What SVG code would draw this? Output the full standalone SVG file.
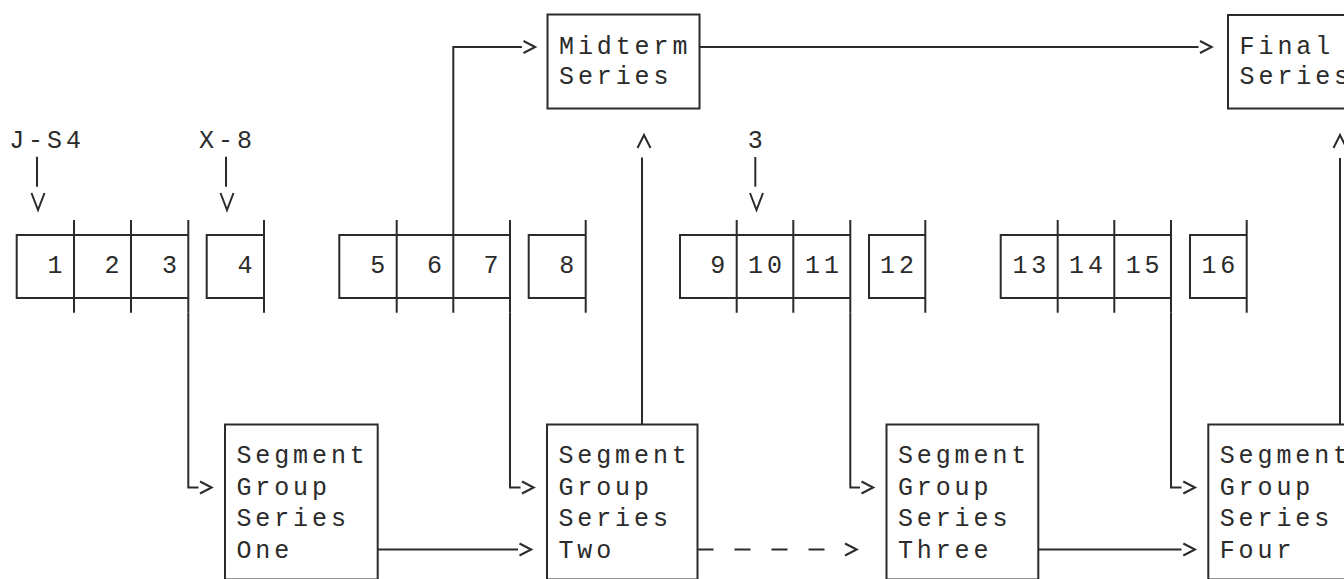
<svg xmlns="http://www.w3.org/2000/svg" width="1344" height="579" viewBox="0 0 1344 579">
<style>
.ln{fill:none;stroke:#2b2b2b;stroke-width:2}
.t{font-family:"Liberation Mono","Courier New",monospace;font-size:25px;letter-spacing:3.9px;fill:#2b2b2b}
.dash{stroke-dasharray:16 21}
</style>
<defs>
<path id="ar" d="M0,-6 L11.7,0 L0,6" fill="none" stroke="#2b2b2b" stroke-width="2"/>
<path id="dn" d="M-6.5,0 L0,17 L6.5,0" fill="none" stroke="#2b2b2b" stroke-width="2"/>
<path id="up" d="M-6.5,13 L0,0 L6.5,13" fill="none" stroke="#2b2b2b" stroke-width="2"/>
</defs>
<rect width="1344" height="579" fill="#ffffff"/>

<g id="label-js4"><text class="t" x="9.2" y="148">J-S4</text></g>
<g id="label-x8"><text class="t" x="199.1" y="148">X-8</text></g>
<g id="label-3"><text class="t" x="747.8" y="148">3</text></g>

<g id="midterm">
<rect class="ln" x="547.5" y="14.5" width="152" height="94"/>
<text class="t" x="559" y="53.5">Midterm</text>
<text class="t" x="559" y="84">Series</text>
</g>
<g id="final">
<rect class="ln" x="1228" y="15" width="160" height="93.5"/>
<text class="t" x="1239.6" y="53.5">Final</text>
<text class="t" x="1239.6" y="84">Series</text>
</g>

<g id="cells-1-3">
<path class="ln" d="M188.3,235 H16.7 V298 H188.3 M74,220 V312.7 M131,220 V312.7 M188.3,220 V312.7"/>
<text class="t" x="47.6" y="273.3">1</text>
<text class="t" x="104.6" y="273.3">2</text>
<text class="t" x="161.9" y="273.3">3</text>
</g>
<g id="cell-4">
<path class="ln" d="M264,235 H206.7 V298 H264 M264,220 V312.7"/>
<text class="t" x="237.6" y="273.3">4</text>
</g>
<g id="cells-5-7">
<path class="ln" d="M510,235 H339.3 V298 H510 M396.7,220 V312.7 M453.3,220 V312.7 M510,220 V312.7"/>
<text class="t" x="370.3" y="273.3">5</text>
<text class="t" x="426.9" y="273.3">6</text>
<text class="t" x="483.6" y="273.3">7</text>
</g>
<g id="cell-8">
<path class="ln" d="M585.7,235 H528.7 V298 H585.7 M585.7,220 V312.7"/>
<text class="t" x="559.3" y="273.3">8</text>
</g>
<g id="cells-9-11">
<path class="ln" d="M850.3,235 H680 V298 H850.3 M736.7,220 V312.7 M793.3,220 V312.7 M850.3,220 V312.7"/>
<text class="t" x="710.3" y="273.3">9</text>
<text class="t" x="748" y="273.3">10</text>
<text class="t" x="805" y="273.3">11</text>
</g>
<g id="cell-12">
<path class="ln" d="M925.3,235 H869 V298 H925.3 M925.3,220 V312.7"/>
<text class="t" x="880" y="273.3">12</text>
</g>
<g id="cells-13-15">
<path class="ln" d="M1171,235 H1000.7 V298 H1171 M1057.7,220 V312.7 M1114.3,220 V312.7 M1171,220 V312.7"/>
<text class="t" x="1012.4" y="273.3">13</text>
<text class="t" x="1069" y="273.3">14</text>
<text class="t" x="1125.7" y="273.3">15</text>
</g>
<g id="cell-16">
<path class="ln" d="M1246.7,235 H1190 V298 H1246.7 M1246.7,220 V312.7"/>
<text class="t" x="1201.4" y="273.3">16</text>
</g>

<g id="seg-one">
<rect class="ln" x="225" y="424.5" width="152.7" height="155"/>
<text class="t" x="236.4" y="463">Segment</text>
<text class="t" x="236.4" y="494.5">Group</text>
<text class="t" x="236.4" y="526">Series</text>
<text class="t" x="236.4" y="557.5">One</text>
</g>
<g id="seg-two">
<rect class="ln" x="547" y="424.5" width="150.5" height="155"/>
<text class="t" x="558.4" y="463">Segment</text>
<text class="t" x="558.4" y="494.5">Group</text>
<text class="t" x="558.4" y="526">Series</text>
<text class="t" x="558.4" y="557.5">Two</text>
</g>
<g id="seg-three">
<rect class="ln" x="886.5" y="424.5" width="151.8" height="155"/>
<text class="t" x="897.9" y="463">Segment</text>
<text class="t" x="897.9" y="494.5">Group</text>
<text class="t" x="897.9" y="526">Series</text>
<text class="t" x="897.9" y="557.5">Three</text>
</g>
<g id="seg-four">
<rect class="ln" x="1208.3" y="424.5" width="160" height="155"/>
<text class="t" x="1219.7" y="463">Segment</text>
<text class="t" x="1219.7" y="494.5">Group</text>
<text class="t" x="1219.7" y="526">Series</text>
<text class="t" x="1219.7" y="557.5">Four</text>
</g>

<g id="connectors">
<path class="ln" d="M37,156.7 V186.7"/><use href="#dn" x="38" y="193"/>
<path class="ln" d="M226,156.7 V186.7"/><use href="#dn" x="227" y="193"/>
<path class="ln" d="M755.3,157 V186.7"/><use href="#dn" x="756.5" y="193"/>
<path class="ln" d="M453.3,220 V47 H522"/><use href="#ar" x="523.5" y="47"/>
<path class="ln" d="M699.5,47 H1198.5"/><use href="#ar" x="1200" y="47"/>
<path class="ln" d="M642,424.5 V157.5"/><use href="#up" x="644" y="135"/>
<path class="ln" d="M1340,424.5 V158"/><use href="#up" x="1340" y="135"/>
<path class="ln" d="M188.3,312.7 V487.5 H198.5"/><use href="#ar" x="200" y="487.5"/>
<path class="ln" d="M510,312.7 V487.5 H520.5"/><use href="#ar" x="522" y="487.5"/>
<path class="ln" d="M850.3,312.7 V487.5 H860"/><use href="#ar" x="861.5" y="487.5"/>
<path class="ln" d="M1171,312.7 V487.5 H1181.5"/><use href="#ar" x="1183.3" y="487.5"/>
<path class="ln" d="M377.7,549.5 H518"/><use href="#ar" x="519.5" y="549.5"/>
<path class="ln dash" d="M697.5,549.5 H825"/><use href="#ar" x="845" y="549.5"/>
<path class="ln" d="M1038.3,549.5 H1181.5"/><use href="#ar" x="1183.3" y="549.5"/>
</g>
</svg>
